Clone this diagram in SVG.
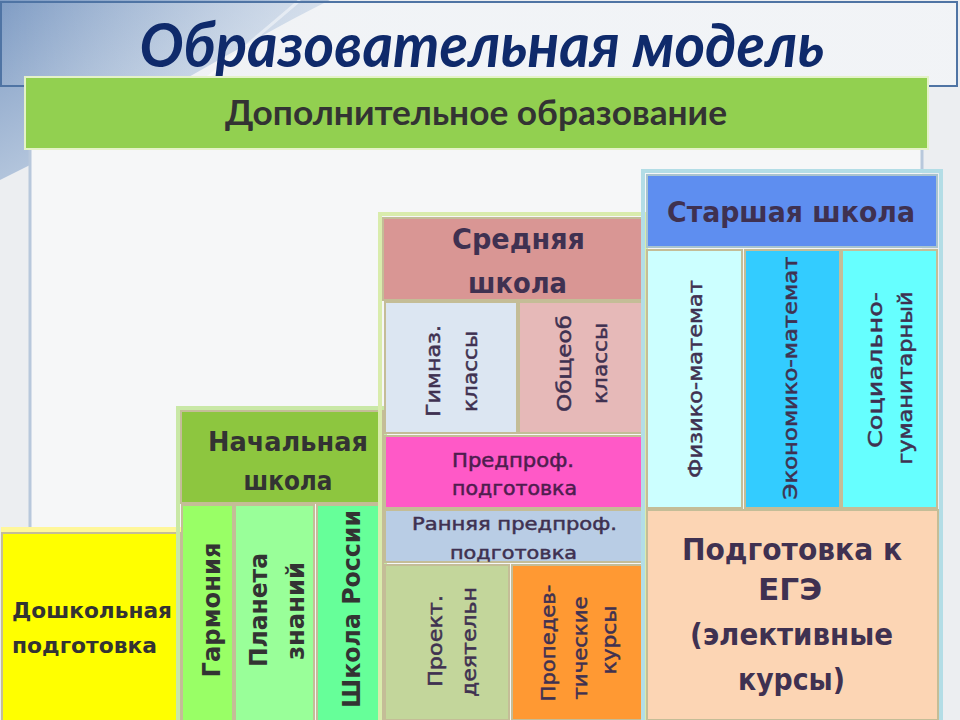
<svg xmlns="http://www.w3.org/2000/svg" width="960" height="720" viewBox="0 0 960 720">
<defs>
<linearGradient id="sw" x1="0" y1="0" x2="1" y2="1">
<stop offset="0" stop-color="#7f9cc4"/>
<stop offset="0.55" stop-color="#b7c8de"/>
<stop offset="1" stop-color="#e9eef4"/>
</linearGradient>
<linearGradient id="band" x1="0" y1="0" x2="1" y2="0">
<stop offset="0" stop-color="#ffffff" stop-opacity="0"/>
<stop offset="0.4" stop-color="#f4f7fa" stop-opacity="0.6"/>
<stop offset="1" stop-color="#f2f4f7" stop-opacity="0.9"/>
</linearGradient>
</defs>
<style>
.bx{stroke:#c4bd97;stroke-width:2}
.h{font-family:"DejaVu Sans","Noto Sans",sans-serif;font-weight:bold;text-anchor:middle}
.m{font-family:"DejaVu Sans","Noto Sans",sans-serif;text-anchor:middle;stroke-width:0.5}
.d{fill:#333333}
.p{fill:#3f3151}
.glow{fill:none;stroke-width:4}
</style>
<rect width="960" height="720" fill="#eceef1"/>
<path d="M0 0 H330 C250 40 150 100 60 150 L0 180 Z" fill="url(#sw)"/>
<path d="M300 0 C230 60 170 110 110 150" fill="none" stroke="#ffffff" stroke-opacity="0.5" stroke-width="3"/>
<rect x="1" y="2" width="956" height="84" fill="url(#band)" stroke="#4f74a4" stroke-width="2"/>
<rect x="30" y="148" width="892" height="572" fill="#f6f7f8"/>
<line x1="30" y1="148" x2="30" y2="530" stroke="#b8c8dc" stroke-width="3"/>
<line x1="922" y1="86" x2="922" y2="172" stroke="#b8c8dc" stroke-width="3"/>
<text x="482" y="67" font-family="Lato,'Liberation Sans',sans-serif" font-size="62" font-weight="bold" font-style="italic" fill="#0f2a6b" text-anchor="middle" textLength="685" lengthAdjust="spacingAndGlyphs">Образовательная модель</text>

<g id="dop">
<rect x="25" y="77" width="903" height="72" fill="#92d050" stroke="#e4f2c8" stroke-width="2"/>
<text x="476" y="125" font-family="Lato,'Liberation Sans',sans-serif" font-size="35" font-weight="bold" fill="#333333" text-anchor="middle" textLength="502" lengthAdjust="spacingAndGlyphs">Дополнительное образование</text>
</g>

<g id="doshk">
<rect x="1" y="527" width="181" height="8" fill="#fff79a"/>
<rect x="2" y="533" width="178" height="188" fill="#ffff00" class="bx"/>
<text x="12" y="618" class="h d" style="text-anchor:start" font-size="22" textLength="160" lengthAdjust="spacingAndGlyphs">Дошкольная</text>
<text x="12" y="653" class="h d" style="text-anchor:start" font-size="22" textLength="145" lengthAdjust="spacingAndGlyphs">подготовка</text>
</g>

<g id="nach">
<rect x="178" y="408" width="207" height="314" class="glow" stroke="#c9e8a6"/>
<rect x="181" y="411" width="202" height="92" fill="#8dc63f" class="bx"/>
<text x="288" y="451" class="h d" font-size="27" textLength="160" lengthAdjust="spacingAndGlyphs">Начальная</text>
<text x="288" y="490" class="h d" font-size="27" textLength="89" lengthAdjust="spacingAndGlyphs">школа</text>
</g>
<g id="garm">
<rect x="182" y="505" width="51" height="216" fill="#99ff66" class="bx"/>
<text transform="translate(220,610) rotate(-90)" class="h d" font-size="25" textLength="135" lengthAdjust="spacingAndGlyphs">Гармония</text>
</g>
<g id="planeta">
<rect x="235" y="505" width="79" height="216" fill="#99ff99" class="bx"/>
<text transform="translate(267,610) rotate(-90)" class="h d" font-size="25" textLength="114" lengthAdjust="spacingAndGlyphs">Планета</text>
<text transform="translate(304,611) rotate(-90)" class="h d" font-size="25" textLength="98" lengthAdjust="spacingAndGlyphs">знаний</text>
</g>
<g id="shkola-rossii">
<rect x="317" y="505" width="66" height="216" fill="#66ff99" class="bx"/>
<text transform="translate(360,609) rotate(-90)" class="h d" font-size="25" textLength="198" lengthAdjust="spacingAndGlyphs">Школа России</text>
</g>

<g id="sred">
<rect x="380" y="214" width="266" height="508" class="glow" stroke="#d9ecac"/>
<rect x="383" y="218" width="260" height="82" fill="#d99694" class="bx"/>
<text x="518.5" y="249" class="h p" font-size="28" textLength="133" lengthAdjust="spacingAndGlyphs">Средняя</text>
<text x="517.5" y="293" class="h p" font-size="28" textLength="99" lengthAdjust="spacingAndGlyphs">школа</text>
</g>
<g id="gimnaz">
<rect x="385" y="302" width="132" height="131" fill="#dce6f2" class="bx"/>
<text transform="translate(440,371) rotate(-90)" class="m p" stroke="#3f3151" font-size="20" textLength="92" lengthAdjust="spacingAndGlyphs">Гимназ.</text>
<text transform="translate(477,371.5) rotate(-90)" class="m p" stroke="#3f3151" font-size="20" textLength="81" lengthAdjust="spacingAndGlyphs">классы</text>
</g>
<g id="obscheob">
<rect x="519" y="302" width="124" height="131" fill="#e6b9b8" class="bx"/>
<text transform="translate(571,363.5) rotate(-90)" class="m p" stroke="#3f3151" font-size="20" textLength="97" lengthAdjust="spacingAndGlyphs">Общеоб</text>
<text transform="translate(607,363.5) rotate(-90)" class="m p" stroke="#3f3151" font-size="20" textLength="81" lengthAdjust="spacingAndGlyphs">классы</text>
</g>
<g id="predprof">
<rect x="385" y="436" width="258" height="72" fill="#ff59c7" class="bx"/>
<text x="513" y="467" class="m" fill="#4e1d4e" stroke="#4e1d4e" font-size="19" textLength="122" lengthAdjust="spacingAndGlyphs">Предпроф.</text>
<text x="514.5" y="495" class="m" fill="#4e1d4e" stroke="#4e1d4e" font-size="19" textLength="125" lengthAdjust="spacingAndGlyphs">подготовка</text>
</g>
<g id="rannyaya">
<rect x="385" y="510" width="258" height="52" fill="#b9cde5" class="bx"/>
<text x="514.5" y="530" class="m p" stroke="#3f3151" font-size="18" textLength="205" lengthAdjust="spacingAndGlyphs">Ранняя предпроф.</text>
<text x="513.5" y="559" class="m p" stroke="#3f3151" font-size="18" textLength="127" lengthAdjust="spacingAndGlyphs">подготовка</text>
</g>
<g id="proekt">
<rect x="385" y="565" width="124" height="155" fill="#c3d69b" class="bx"/>
<text transform="translate(442,641) rotate(-90)" class="m p" stroke="#3f3151" font-size="20" textLength="92" lengthAdjust="spacingAndGlyphs">Проект.</text>
<text transform="translate(476,642) rotate(-90)" class="m p" stroke="#3f3151" font-size="20" textLength="110" lengthAdjust="spacingAndGlyphs">деятельн</text>
</g>
<g id="propedev">
<rect x="512" y="565" width="131" height="155" fill="#ff9933" class="bx"/>
<text transform="translate(555,643) rotate(-90)" class="m p" stroke="#3f3151" font-size="20" textLength="117" lengthAdjust="spacingAndGlyphs">Пропедев-</text>
<text transform="translate(587,648) rotate(-90)" class="m p" stroke="#3f3151" font-size="20" textLength="103" lengthAdjust="spacingAndGlyphs">тические</text>
<text transform="translate(616,640) rotate(-90)" class="m p" stroke="#3f3151" font-size="20" textLength="69" lengthAdjust="spacingAndGlyphs">курсы</text>
</g>

<g id="starsh">
<rect x="643" y="171" width="298" height="551" class="glow" stroke="#b3dde6"/>
<rect x="647" y="175" width="290" height="72" fill="#5e8ef0" class="bx" style="stroke:#a9c4cf"/>
<text x="791" y="222" class="h p" font-size="29" textLength="248" lengthAdjust="spacingAndGlyphs">Старшая школа</text>
</g>
<g id="fiz-mat">
<rect x="647" y="250" width="95" height="258" fill="#ccffff" class="bx"/>
<text transform="translate(702,379) rotate(-90)" class="m p" stroke="#3f3151" font-size="20" textLength="198" lengthAdjust="spacingAndGlyphs">Физико-математ</text>
</g>
<g id="econ-mat">
<rect x="745" y="250" width="95" height="258" fill="#33ccff" class="bx"/>
<text transform="translate(797,378) rotate(-90)" class="m p" stroke="#3f3151" font-size="20" textLength="243" lengthAdjust="spacingAndGlyphs">Экономико-математ</text>
</g>
<g id="soc-gum">
<rect x="842" y="250" width="95" height="258" fill="#66ffff" class="bx"/>
<text transform="translate(882,370) rotate(-90)" class="m p" stroke="#3f3151" font-size="20" textLength="156" lengthAdjust="spacingAndGlyphs">Социально-</text>
<text transform="translate(912,378) rotate(-90)" class="m p" stroke="#3f3151" font-size="20" textLength="173" lengthAdjust="spacingAndGlyphs">гуманитарный</text>
</g>
<g id="ege">
<rect x="647" y="510" width="291" height="210" fill="#fcd5b4" class="bx"/>
<text x="792" y="560" class="h p" font-size="31" textLength="220" lengthAdjust="spacingAndGlyphs">Подготовка к</text>
<text x="790" y="600" class="h p" font-size="31" textLength="64" lengthAdjust="spacingAndGlyphs">ЕГЭ</text>
<text x="791.5" y="645" class="h p" font-size="31" textLength="203" lengthAdjust="spacingAndGlyphs">(элективные</text>
<text x="791.5" y="690" class="h p" font-size="31" textLength="107" lengthAdjust="spacingAndGlyphs">курсы)</text>
</g>
<g id="connectors"/>
</svg>
